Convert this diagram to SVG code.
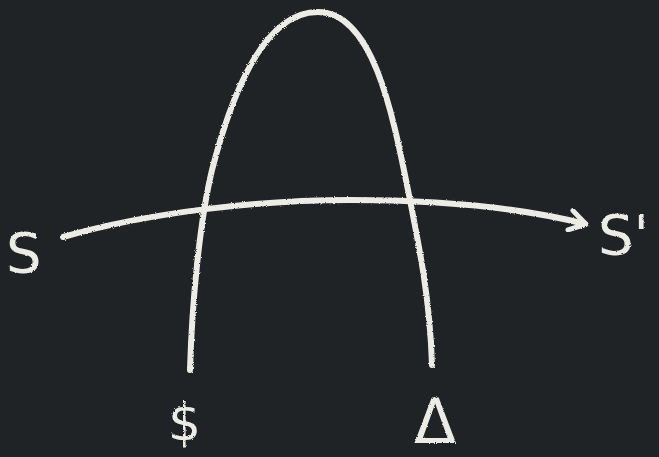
<svg xmlns="http://www.w3.org/2000/svg" width="659" height="457" viewBox="0 0 659 457">
<defs>
<style>
.chalk{fill:none;stroke:#ecebe6;stroke-width:6;stroke-linecap:round;stroke-linejoin:round;filter:url(#rough)}
.lbl{fill:#ecebe6;font-family:"DejaVu Sans","Liberation Sans",sans-serif;filter:url(#rough)}
</style>
<filter id="rough" x="-10%" y="-10%" width="120%" height="120%">
<feTurbulence type="fractalNoise" baseFrequency="0.9" numOctaves="2" seed="3" result="n"/>
<feDisplacementMap in="SourceGraphic" in2="n" scale="2.5"/>
</filter>
<marker id="chev" viewBox="0 0 24 24" refX="19" refY="12" markerWidth="24" markerHeight="24" markerUnits="userSpaceOnUse" orient="auto">
<path d="M4,2 L20,12 L4,22" fill="none" stroke="#ecebe6" stroke-width="5" stroke-linecap="round" stroke-linejoin="round"/>
</marker>
</defs>
<rect width="659" height="457" fill="#1f2326"/>
<g id="connectors">
<path id="arch" class="chalk" d="M190,370 C192,300 200,220 212,170 C230,100 262,12 318,12 C372,12 392,110 408,190 C420,250 430,300 432,365"/>
<path id="arrow" class="chalk" stroke-width="5" d="M63,237 C150,212 260,200 350,200 C450,200 530,210 585,224" marker-end="url(#chev)"/>
</g>
<g id="node-s"><text class="lbl" x="6" y="272" font-size="56">S</text></g>
<g id="node-s-prime"><text class="lbl" x="598" y="254" font-size="56">S'</text></g>
<g id="node-dollar"><text class="lbl" x="168" y="440" font-size="52">$</text></g>
<g id="node-delta"><text class="lbl" x="414" y="443" font-size="62">Δ</text></g>
</svg>
